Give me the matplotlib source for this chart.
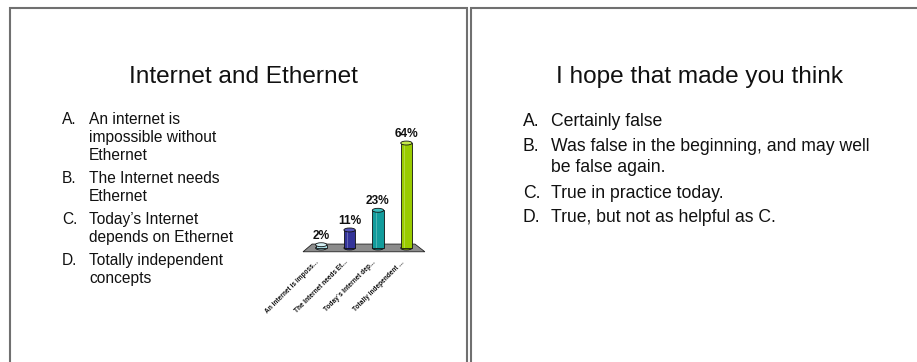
import matplotlib
matplotlib.use("Agg")
import matplotlib.pyplot as plt
from matplotlib.patches import Rectangle, Ellipse, Polygon
from matplotlib.transforms import ScaledTranslation

W, H = 917, 362
plt.rcParams["font.family"] = ["Liberation Sans", "DejaVu Sans"]

# poll results
answers = ["An internet is imposs...", "The Internet needs Et...",
           "Today`s Internet dep...", "Totally independent ..."]
shares = [2, 11, 23, 64]
bar_colors = ["#a8dce4", "#333399", "#129c9c", "#99cc00"]
cap_colors = ["#d4f0f4", "#5555bb", "#3cc0c0", "#c4e84a"]

left_title = "Internet and Ethernet"
left_items = [("A.", ["An internet is", "impossible without", "Ethernet"]),
              ("B.", ["The Internet needs", "Ethernet"]),
              ("C.", ["Today\u2019s Internet", "depends on Ethernet"]),
              ("D.", ["Totally independent", "concepts"])]
right_title = "I hope that made you think"
right_items = [("A.", ["Certainly false"]),
               ("B.", ["Was false in the beginning, and may well", "be false again."]),
               ("C.", ["True in practice today."]),
               ("D.", ["True, but not as helpful as C."])]

INK = "#111111"; FRAME = "#707070"

fig = plt.figure(figsize=(W / 100, H / 100), dpi=100)
fig.patch.set_facecolor("white")


def fx(px):
    return px / W


def fy(py):
    return 1 - py / H


def slide_text(x, y, s, size, **kw):
    fig.text(fx(x), fy(y), s, fontsize=size, color=INK, va="baseline", **kw)


def item_list(items, x_letter, x_text, y0, line, gap, size):
    y = y0
    for letter, lines in items:
        slide_text(x_letter, y, letter, size)
        for i, ln in enumerate(lines):
            slide_text(x_text, y, ln, size)
            y += line if i < len(lines) - 1 else gap


# slide frames
for x0, x1 in [(9.5, 466.5), (470.5, 940)]:
    fig.patches.append(Rectangle((fx(x0), fy(380)), fx(x1 - x0), (380 - 7.5) / H,
                                 transform=fig.transFigure, fill=False,
                                 edgecolor=FRAME, linewidth=1.5))

# left slide
slide_text(243, 83, left_title, 17.6, ha="center")
item_list(left_items, 62, 89, 124, 18, 23, 11.2)

# right slide
slide_text(699, 83, right_title, 17.6, ha="center")
item_list(right_items, 523, 551, 126.5, 21, 25, 12.7)

# 3-D style column chart of the poll
PX_BAR = 28.4      # pixels between columns
PX_PCT = 1.64      # pixels per percent
X0, Y0 = 321.2, 248
xlo, xhi, ylo, yhi = -0.7, 3.7, -4, 70
ax = fig.add_axes([fx(X0 + xlo * PX_BAR), fy(Y0 - ylo * PX_PCT),
                   (xhi - xlo) * PX_BAR / W, (yhi - ylo) * PX_PCT / H])
ax.set_xlim(xlo, xhi); ax.set_ylim(ylo, yhi)
ax.set_facecolor("none")
for sp in ax.spines.values():
    sp.set_visible(False)
ax.set_yticks([])

floor = Polygon([(-0.64, -2.3), (3.65, -2.3), (3.30, 2.4), (-0.32, 2.4)],
                closed=True, facecolor="#8c8c8c", edgecolor="#222222",
                linewidth=0.6, zorder=1)
ax.add_patch(floor)

bw = 0.40
cap_h = 2.4
xs = list(range(len(shares)))
ax.bar(xs, shares, width=bw, color=bar_colors, edgecolor="#111111",
       linewidth=0.6, zorder=2)
for x, v, c, cc in zip(xs, shares, bar_colors, cap_colors):
    ax.add_patch(Ellipse((x, 0), bw, cap_h, facecolor=c, edgecolor="#111111",
                         linewidth=0.6, zorder=1.9))
    # highlight stripe down the cylinder
    ax.add_patch(Rectangle((x - bw * 0.22, 0), bw * 0.12, v, facecolor="white",
                           alpha=0.25, linewidth=0, zorder=2.1))
    ax.add_patch(Ellipse((x, v), bw, cap_h, facecolor=cc, edgecolor="#111111",
                         linewidth=0.6, zorder=3))
    ax.text(x, v + 3.6, f"{v}%", ha="center", va="baseline",
            fontsize=8.6, fontweight="bold", color=INK, zorder=4)

ax.set_xticks(xs)
ax.set_xticklabels(answers, rotation=45, ha="right", va="center",
                   rotation_mode="anchor", fontsize=4.7, fontweight="bold",
                   color=INK)
ax.tick_params(axis="x", length=0, pad=5)
# nudge the slanted labels a touch left, in line with the floor edge
shift = ScaledTranslation(-3 / 100, 0, fig.dpi_scale_trans)
for lbl in ax.get_xticklabels():
    lbl.set_transform(lbl.get_transform() + shift)

fig.savefig("out.png", dpi=100)
